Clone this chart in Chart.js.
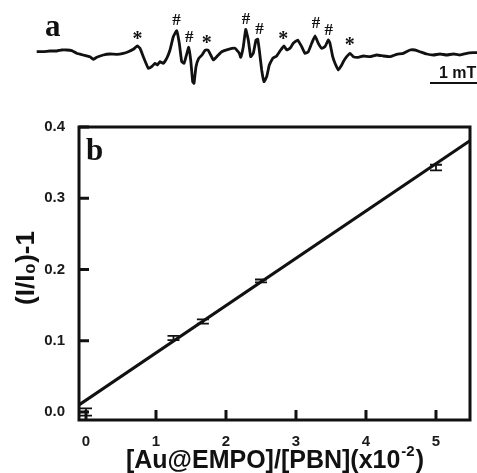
<!DOCTYPE html>
<html>
<head>
<meta charset="utf-8">
<script src="https://cdn.jsdelivr.net/npm/chart.js@4.4.0/dist/chart.umd.min.js"></script>
<style>
  html, body { margin: 0; padding: 0; background: #fff; }
  #wrap { position: relative; width: 477px; height: 473px; overflow: hidden; }
  canvas { position: absolute; left: 0; }
  #spectrum { top: 0; }
  #ratio { top: 100px; }
</style>
</head>
<body>
<div id="wrap">
  <canvas id="spectrum" width="477" height="100"></canvas>
  <canvas id="ratio" width="477" height="373"></canvas>
</div>
<script>
// パネルa: EPRスペクトル (横軸・縦軸とも任意単位)
const fieldPos = [36.7, 43.3, 50.0, 56.7, 61.7, 66.7, 71.7, 76.7, 83.3, 90.0, 93.3, 96.7, 103.3, 110.0, 116.7, 123.3,
    128.3, 133.3, 137.3, 140.0, 143.3, 148.3, 151.7, 155.0, 157.3, 160.0, 163.3, 166.7, 170.0, 173.3, 176.7, 179.3,
    181.7, 184.0, 186.0, 188.7, 190.7, 192.7, 194.0, 196.0, 198.7, 202.0, 205.3, 208.0, 210.7, 213.3, 216.7, 221.7,
    228.3, 235.0, 239.3, 240.7, 243.3, 245.7, 248.3, 250.7, 253.3, 256.0, 257.7, 259.3, 261.7, 264.0, 266.7, 269.3,
    272.7, 276.7, 280.7, 284.0, 286.7, 290.0, 293.3, 297.7, 301.7, 305.0, 308.3, 311.7, 315.0, 318.3, 321.7, 325.0,
    328.3, 330.0, 332.7, 335.0, 338.3, 341.7, 343.3, 346.7, 350.0, 353.3, 358.3, 363.3, 370.0, 376.7, 383.3, 390.0,
    396.7, 403.3, 410.0, 415.0, 420.0, 426.7, 433.3, 440.0, 446.7, 453.3, 460.0, 466.7, 473.3, 477.0];
const signal = [0.3, 0.3, 1.0, 1.0, 2.0, 2.0, 1.3, -1.3, -3.0, -4.7, -7.3, -5.3, -3.0, -2.0, -2.3, -1.3,
    0.3, 2.7, 6.0, 3.7, -4.7, -16.3, -14.7, -11.3, -13.0, -9.7, -11.3, -6.3, 2.0, 15.3, 21.3, 8.7,
    -9.7, -11.3, -4.7, 4.7, -8.0, -29.7, -31.3, -14.7, -6.3, -3.0, 2.0, 2.0, -3.0, -8.0, -4.7, 0.3,
    2.7, 3.7, -1.3, -5.3, 5.3, 22.7, 12.0, -4.7, -1.3, 12.0, 12.7, 2.0, -18.0, -29.7, -24.7, -13.0,
    -6.3, -4.0, 2.0, 6.0, 2.0, 3.7, 8.7, 12.0, 5.3, -1.3, 0.3, 8.7, 16.0, 8.7, 3.7, 5.3,
    12.0, 8.7, -4.7, -11.3, -18.0, -13.0, -9.7, -4.7, -1.3, -4.7, -5.3, -4.0, -4.7, -3.0, -4.0, -4.7,
    -2.3, -1.3, 2.0, 2.0, 0.3, -2.0, -3.0, -2.0, -3.0, -2.0, -3.0, -1.3, -0.7, -0.7];

// ピークの印 (#: 付加体A, *: 付加体B)
const markLabels = ['#', '#', '#', '#', '#', '#', '*', '*', '*', '*'];
const markPos = [176.5, 189.2, 246.0, 259.5, 316.0, 328.8, 137.5, 206.8, 283.3, 349.7];
const markLevel = [31.2, 14.5, 32.3, 22.3, 28.3, 21.7, 15.3, 11.0, 15.3, 8.7];

// パネルb: 競争反応のプロット
const ratioX = [0, 1.25, 1.67, 2.5, 5.0];
const ratioY = [0.0, 0.104, 0.127, 0.184, 0.343];
const ratioErr = [0.005, 0.003, 0.003, 0.002, 0.004];
const fitX = [-0.1, 5.49];
const fitY = [0.010, 0.381];
const xTicks = [0, 1, 2, 3, 4, 5];
const yTicks = [0.0, 0.1, 0.2, 0.3, 0.4];

const SANS = '"Liberation Sans", Arial, sans-serif';
const SERIF = '"Liberation Serif", "Times New Roman", serif';

// スペクトル上の文字
const spectrumLabels = {
    id: 'spectrumLabels',
    afterDatasetsDraw(chart) {
        const { ctx, scales } = chart;
        ctx.save();
        ctx.fillStyle = '#111';
        ctx.font = 'bold 31px ' + SERIF;
        ctx.textBaseline = 'alphabetic';
        ctx.textAlign = 'left';
        ctx.fillText('a', 45, 36);

        ctx.textAlign = 'center';
        ctx.textBaseline = 'middle';
        markLabels.forEach((t, i) => {
            ctx.font = (t === '#' ? 'bold 17px ' : 'bold 20px ') + SERIF;
            const dy = t === '*' ? 3 : 0;
            ctx.fillText(t, scales.x.getPixelForValue(markPos[i]), scales.y.getPixelForValue(markLevel[i]) + dy);
        });

        // スケールバー
        ctx.font = 'bold 16px ' + SANS;
        ctx.textAlign = 'left';
        ctx.textBaseline = 'alphabetic';
        ctx.fillText('1 mT', 439, 78);
        ctx.strokeStyle = '#111';
        ctx.lineWidth = 2;
        ctx.beginPath();
        ctx.moveTo(430, 83);
        ctx.lineTo(477, 83);
        ctx.stroke();
        ctx.restore();
    }
};

new Chart(document.getElementById('spectrum'), {
    type: 'line',
    data: {
        datasets: [{
            data: fieldPos.map((x, i) => ({ x: x, y: signal[i] })),
            borderColor: '#111',
            borderWidth: 2.8,
            pointRadius: 0,
            tension: 0.1,
            fill: false
        }]
    },
    options: {
        responsive: false,
        animation: false,
        layout: { padding: 0 },
        plugins: { legend: { display: false }, tooltip: { enabled: false } },
        scales: {
            x: { type: 'linear', display: false, min: 0, max: 477 },
            y: { display: false, min: -48, max: 52 }
        }
    },
    plugins: [spectrumLabels]
});

// 枠・内向き目盛・誤差棒・軸タイトル
const frameAndBars = {
    id: 'frameAndBars',
    afterDatasetsDraw(chart) {
        const { ctx, chartArea: a, scales } = chart;
        const xs = scales.x, ys = scales.y;
        ctx.save();
        ctx.strokeStyle = '#111';

        // 誤差棒
        ctx.lineWidth = 1.8;
        ratioX.forEach((x, i) => {
            const px = xs.getPixelForValue(x);
            const top = ys.getPixelForValue(ratioY[i] + ratioErr[i]);
            const bot = ys.getPixelForValue(ratioY[i] - ratioErr[i]);
            ctx.beginPath();
            ctx.moveTo(px, top); ctx.lineTo(px, bot);
            ctx.moveTo(px - 6, top); ctx.lineTo(px + 6, top);
            ctx.moveTo(px - 6, bot); ctx.lineTo(px + 6, bot);
            ctx.stroke();
        });

        // 内向き目盛
        ctx.lineWidth = 3;
        ctx.beginPath();
        xTicks.forEach(v => {
            const px = xs.getPixelForValue(v);
            ctx.moveTo(px, a.bottom); ctx.lineTo(px, a.bottom - 10);
        });
        yTicks.forEach(v => {
            const py = ys.getPixelForValue(v);
            ctx.moveTo(a.left, py); ctx.lineTo(a.left + 10, py);
        });
        ctx.stroke();

        // 枠
        ctx.lineWidth = 3;
        ctx.strokeRect(a.left, a.top, a.right - a.left, a.bottom - a.top);

        // パネル記号
        ctx.fillStyle = '#111';
        ctx.font = 'bold 31px ' + SERIF;
        ctx.textAlign = 'left';
        ctx.textBaseline = 'alphabetic';
        ctx.fillText('b', a.left + 7, a.top + 33);

        // 横軸タイトル (上付き付き)
        const main = '[Au@EMPO]/[PBN](x10';
        const sup = '-2';
        const tail = ')';
        ctx.font = 'bold 25px ' + SANS;
        const w1 = ctx.measureText(main).width;
        const w3 = ctx.measureText(tail).width;
        ctx.font = 'bold 15px ' + SANS;
        const w2 = ctx.measureText(sup).width;
        const x0 = 275 - (w1 + w2 + w3 + 2) / 2;
        const base = 368;
        ctx.font = 'bold 25px ' + SANS;
        ctx.fillText(main, x0, base);
        ctx.font = 'bold 15px ' + SANS;
        ctx.fillText(sup, x0 + w1 + 1, base - 12);
        ctx.font = 'bold 25px ' + SANS;
        ctx.fillText(tail, x0 + w1 + w2 + 2, base);

        // 縦軸タイトル
        ctx.translate(27, 168);
        ctx.rotate(-Math.PI / 2);
        ctx.textAlign = 'center';
        ctx.textBaseline = 'middle';
        ctx.font = 'bold 26px ' + SANS;
        ctx.fillText('(I/I\u2080)-1', 0, 0);
        ctx.restore();
    }
};

new Chart(document.getElementById('ratio'), {
    type: 'scatter',
    data: {
        datasets: [
            {
                type: 'line',
                data: fitX.map((x, i) => ({ x: x, y: fitY[i] })),
                borderColor: '#111',
                borderWidth: 3,
                pointRadius: 0,
                fill: false
            },
            {
                data: ratioX.map((x, i) => ({ x: x, y: ratioY[i] })),
                pointRadius: 0,
                borderColor: '#111'
            }
        ]
    },
    options: {
        responsive: false,
        animation: false,
        layout: { padding: { top: 27, right: 7, left: 0, bottom: 0 } },
        plugins: { legend: { display: false }, tooltip: { enabled: false } },
        scales: {
            x: {
                type: 'linear',
                min: -0.1,
                max: 5.486,
                grid: { display: false, drawTicks: false },
                border: { display: false },
                afterBuildTicks: s => { s.ticks = xTicks.map(v => ({ value: v })); },
                afterFit: s => { s.height = 53; },
                ticks: {
                    padding: 13,
                    color: '#1a1a1a',
                    font: { family: SANS, size: 15, weight: 'bold' },
                    callback: v => String(v)
                }
            },
            y: {
                min: -0.0112,
                max: 0.4,
                grid: { display: false, drawTicks: false },
                border: { display: false },
                afterBuildTicks: s => { s.ticks = yTicks.map(v => ({ value: v })); },
                afterFit: s => { s.width = 79; },
                ticks: {
                    padding: 14,
                    color: '#1a1a1a',
                    font: { family: SANS, size: 15, weight: 'bold' },
                    callback: v => v.toFixed(1)
                }
            }
        }
    },
    plugins: [frameAndBars]
});
</script>
</body>
</html>
